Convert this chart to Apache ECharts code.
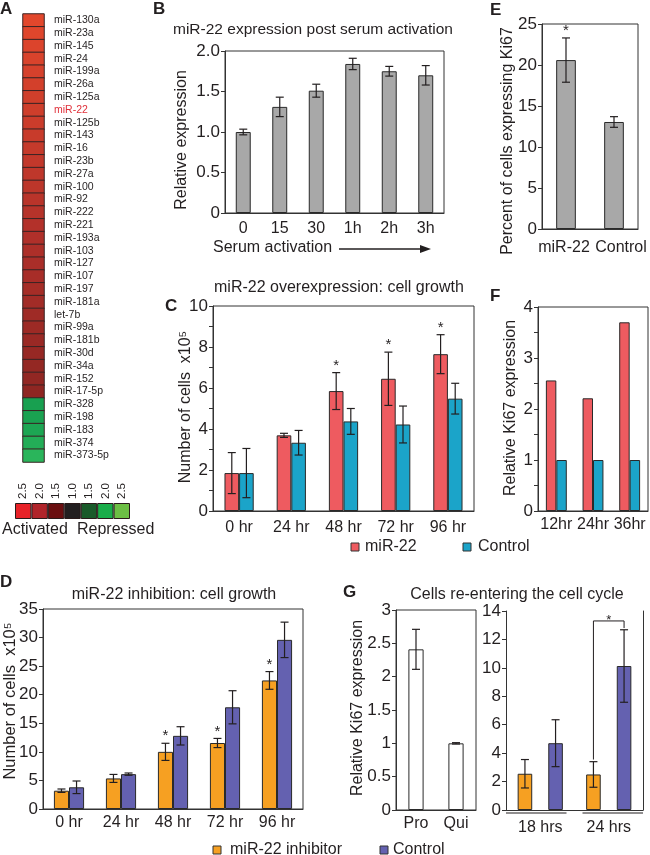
<!DOCTYPE html>
<html><head><meta charset="utf-8">
<script src="https://cdn.jsdelivr.net/npm/echarts@6/dist/echarts.min.js"></script>
<style>html,body{margin:0;padding:0;background:#fff}#c{width:650px;height:855px}</style>
</head><body><div id="c"></div>
<script>
// ---------- DATA ----------
const heatGenes = ['miR-130a','miR-23a','miR-145','miR-24','miR-199a','miR-26a','miR-125a','miR-22','miR-125b','miR-143','miR-16','miR-23b','miR-27a','miR-100','miR-92','miR-222','miR-221','miR-193a','miR-103','miR-127','miR-107','miR-197','miR-181a','let-7b','miR-99a','miR-181b','miR-30d','miR-34a','miR-152','miR-17-5p','miR-328','miR-198','miR-183','miR-374','miR-373-5p'];
const heatValues = [2.5,2.47,2.44,2.41,2.38,2.35,2.32,2.3,2.27,2.24,2.21,2.18,2.15,2.12,2.09,2.06,2.03,2.0,1.97,1.94,1.91,1.88,1.85,1.82,1.79,1.76,1.73,1.7,1.67,1.64,-2.0,-2.05,-2.12,-2.28,-2.45];
const colorbarLabels = ['2.5','2.0','1.5','1.0','1.5','2.0','2.5'];

const serumCats = ['0','15','30','1h','2h','3h'];
const serumMean = [1.0,1.31,1.51,1.84,1.75,1.70];
const serumErr  = [0.035,0.12,0.08,0.07,0.06,0.12];

const ki67Cats = ['miR-22','Control'];
const ki67Pct  = [20.6,13.05];
const ki67Err  = [2.7,0.65];
const ki67Sig  = ['*',''];

const timeCats = ['0 hr','24 hr','48 hr','72 hr','96 hr'];
const overMiR     = [1.85,3.69,5.85,6.45,7.65];
const overMiRErr  = [1.0,0.1,0.9,1.3,0.95];
const overCtrl    = [1.85,3.33,4.37,4.22,5.48];
const overCtrlErr = [1.2,0.6,0.63,0.9,0.75];
const overSig     = ['','','*','*','*'];

const fCats = ['12hr','24hr','36hr'];
const fMiR  = [2.56,2.21,3.70];
const fCtrl = [1,1,1];

const inhibVals = [3.2,5.35,10.0,11.55,22.5];
const inhibErr  = [0.3,0.7,1.5,0.8,1.55];
const inhibSig  = ['','','*','*','*'];
const ctrlVals  = [3.8,6.1,12.8,17.8,29.6];
const ctrlErr   = [1.1,0.2,1.6,2.9,3.1];

const gLeftCats = ['Pro','Qui'];
const gLeftVals = [2.41,1.0];
const gLeftErr  = [0.3,0.01];
const gRightCats = ['18 hrs','24 hrs'];
const gInhib    = [2.55,2.5];
const gInhibErr = [1.0,0.9];
const gCtrl     = [4.7,10.13];
const gCtrlErr  = [1.65,2.55];
const gBracket  = [1, 3.55, 13.3, 12.8]; // category, left start, top, right end

// ---------- STYLE ----------
const FONT = '"Liberation Sans", Arial, "DejaVu Sans", sans-serif';
const INK = '#231f20';
const RED = '#ee5b60', BLUE = '#1ba4c9', ORANGE = '#f6a022', PURPLE = '#6461b0', GRAY = '#a8a8a8';
const colorbarColors = ['#e82228','#b0242a','#6a0e10','#231f20','#1a5a2a','#1aad4a','#6cbf44'];

const chart = echarts.init(document.getElementById('c'));

const gridStyle = {show:true, borderColor:'#333', borderWidth:1, backgroundColor:'transparent'};
const lbl = (extra) => Object.assign({color:INK, fontSize:16, fontFamily:FONT}, extra||{});
function catX(gi, data, margin, extra) {
  return Object.assign({gridIndex:gi, type:'category', data, axisTick:{show:false},
    axisLine:{show:true, lineStyle:{color:'#333'}}, axisLabel:lbl({margin, interval:0})}, extra||{});
}
function valY(gi, min, max, interval, extra) {
  return Object.assign({gridIndex:gi, type:'value', min, max, interval,
    axisLine:{show:true, lineStyle:{color:'#333'}}, axisTick:{show:true, length:4, lineStyle:{color:'#333'}},
    splitLine:{show:false}, axisLabel:lbl({margin:5, fontSize:17})}, extra||{});
}
function barS(ai, data, color, cg, bg) {
  return {type:'bar', xAxisIndex:ai, yAxisIndex:ai, data, barCategoryGap:(cg*100)+'%', barGap:(bg*100)+'%',
    itemStyle:{color, borderColor:'#2a2a2a', borderWidth:1}, silent:true, z:2};
}
function barOffset(band, n, k, cg, bg) {
  const w = band*(1-cg)/(n+(n-1)*bg);
  const total = w*n + w*bg*(n-1);
  return -total/2 + w/2 + k*w*(1+bg);
}
function errS(ai, means, errs, sig, n, k, cg, bg) {
  return {type:'custom', xAxisIndex:ai, yAxisIndex:ai, z:5, silent:true,
    data: means.map((m,i)=>[i,m,errs[i]]), encode:{x:0,y:1},
    renderItem(params, api) {
      const i = api.value(0), m = api.value(1), e = api.value(2);
      const band = api.size([1,0])[0];
      const x = api.coord([i,m])[0] + barOffset(band,n,k,cg,bg);
      const yt = api.coord([i,m+e])[1], yb = api.coord([i,m-e])[1];
      const cap = 4, st = {stroke:INK, lineWidth:1.2};
      const ch = [
        {type:'line', shape:{x1:x,y1:yt,x2:x,y2:yb}, style:st},
        {type:'line', shape:{x1:x-cap,y1:yt,x2:x+cap,y2:yt}, style:st},
        {type:'line', shape:{x1:x-cap,y1:yb,x2:x+cap,y2:yb}, style:st}
      ];
      const s = sig && sig[params.dataIndex];
      if (s) ch.push({type:'text', style:{text:s, x, y:yt-7, textAlign:'center', textVerticalAlign:'middle', font:'15px '+FONT, fill:INK}});
      return {type:'group', children:ch};
    }};
}

const CG_B=0.59, CG_E=0.59, CG_C=0.44, CG_F=0.43, CG_D=0.42, CG_GL=0.62, CG_GR=0.34, BG_GR=1.1;

const xAxis = [
  {gridIndex:0, type:'category', data:['A'], show:false},
  {gridIndex:1, type:'category', data:colorbarLabels, position:'top', axisLine:{show:false}, axisTick:{show:false},
    axisLabel:lbl({rotate:90, margin:4, fontSize:11.5, interval:0, formatter:(v,i)=>colorbarLabels[i]})},
  catX(2, serumCats, 8),
  catX(3, ki67Cats, 11, {axisLabel:lbl({margin:11, interval:0, fontSize:16,
    formatter:(v,i)=> i===0 ? '{a|'+v+'}' : '{b|'+v+'}',
    rich:{a:{fontSize:16, fontFamily:FONT, color:INK, padding:[0,4,0,0]}, b:{fontSize:16, fontFamily:FONT, color:INK, padding:[0,0,0,14]}}})}),
  catX(4, timeCats, 9),
  catX(5, fCats, 6),
  catX(6, timeCats, 6),
  catX(7, gLeftCats, 6),
  catX(8, gRightCats, 10, {axisLine:{show:false}}),
  {gridIndex:8, type:'value', position:'top', min:0, max:1, axisLine:{show:true, lineStyle:{color:'#333'}}, axisLabel:{show:false}, axisTick:{show:false}, splitLine:{show:false}}
];
const yAxis = [
  {gridIndex:0, type:'category', data:heatGenes, inverse:true, position:'right', axisLine:{show:false}, axisTick:{show:false},
    axisLabel:{color:INK, fontSize:10.5, fontFamily:FONT, margin:10, interval:0,
      formatter:v=> v==='miR-22' ? '{hl|'+v+'}' : v, rich:{hl:{color:'#e0303a', fontSize:10.5, fontFamily:FONT}}}},
  {gridIndex:1, type:'value', min:0, max:1, show:false},
  valY(2, 0, 2, 0.5, {axisLabel:lbl({margin:5, fontSize:17, formatter:v=> v===0 ? '0' : v.toFixed(1)})}),
  valY(3, 0, 25, 5),
  valY(4, 0, 10, 2, {minorTick:{show:true, splitNumber:2, length:4, lineStyle:{color:'#333'}}}),
  valY(5, 0, 4, 1, {minorTick:{show:true, splitNumber:2, length:4, lineStyle:{color:'#333'}}}),
  valY(6, 0, 35, 5),
  valY(7, 0, 3, 0.5),
  valY(8, 0, 14, 2),
  {gridIndex:8, type:'value', position:'right', min:0, max:1, axisLine:{show:true, lineStyle:{color:'#333'}}, axisLabel:{show:false}, axisTick:{show:false}, splitLine:{show:false}}
];

const series = [
  {type:'heatmap', xAxisIndex:0, yAxisIndex:0, data:heatValues.map((v,i)=>[0,i,v]),
    itemStyle:{borderColor:'#3a2424', borderWidth:1}, silent:true},
  {type:'bar', xAxisIndex:1, yAxisIndex:1, data:colorbarLabels.map(()=>1), barCategoryGap:'0%', silent:true,
    itemStyle:{color:p=>colorbarColors[p.dataIndex], borderColor:'#2a1a1a', borderWidth:1}},
  // B
  barS(2, serumMean, GRAY, CG_B, 0), errS(2, serumMean, serumErr, null, 1, 0, CG_B, 0),
  // E
  barS(3, ki67Pct, GRAY, CG_E, 0), errS(3, ki67Pct, ki67Err, ki67Sig, 1, 0, CG_E, 0),
  // C
  barS(4, overMiR, RED, CG_C, 0), barS(4, overCtrl, BLUE, CG_C, 0),
  errS(4, overMiR, overMiRErr, overSig, 2, 0, CG_C, 0), errS(4, overCtrl, overCtrlErr, null, 2, 1, CG_C, 0),
  // F
  barS(5, fMiR, RED, CG_F, 0), barS(5, fCtrl, BLUE, CG_F, 0),
  // D
  barS(6, inhibVals, ORANGE, CG_D, 0), barS(6, ctrlVals, PURPLE, CG_D, 0),
  errS(6, inhibVals, inhibErr, inhibSig, 2, 0, CG_D, 0), errS(6, ctrlVals, ctrlErr, null, 2, 1, CG_D, 0),
  // G left
  barS(7, gLeftVals, '#ffffff', CG_GL, 0), errS(7, gLeftVals, gLeftErr, null, 1, 0, CG_GL, 0),
  // G right
  barS(8, gInhib, ORANGE, CG_GR, BG_GR), barS(8, gCtrl, PURPLE, CG_GR, BG_GR),
  errS(8, gInhib, gInhibErr, null, 2, 0, CG_GR, BG_GR), errS(8, gCtrl, gCtrlErr, null, 2, 1, CG_GR, BG_GR),
  {type:'custom', xAxisIndex:8, yAxisIndex:8, silent:true, z:6, data:[gBracket], encode:{x:0,y:2},
    renderItem(params, api) {
      const c = api.value(0), band = api.size([1,0])[0];
      const cx = api.coord([c,0])[0];
      const xl = cx + barOffset(band,2,0,CG_GR,BG_GR), xr = cx + barOffset(band,2,1,CG_GR,BG_GR);
      const y1 = api.coord([c,api.value(1)])[1], yt = api.coord([c,api.value(2)])[1], y2 = api.coord([c,api.value(3)])[1];
      return {type:'group', children:[
        {type:'polyline', shape:{points:[[xl,y1],[xl,yt],[xr,yt],[xr,y2]]}, style:{stroke:INK, lineWidth:1, fill:null}},
        {type:'text', style:{text:'*', x:(xl+xr)/2, y:yt-1, textAlign:'center', textVerticalAlign:'middle', font:'13px '+FONT, fill:INK}}
      ]};
    }},
  {type:'custom', xAxisIndex:8, yAxisIndex:8, silent:true, data:gRightCats.map((c,i)=>[i,0]), encode:{x:0,y:1},
    renderItem(params, api) {
      const i = api.value(0), band = api.size([1,0])[0];
      const p = api.coord([i,0]);
      let x1 = p[0]-band/2, x2 = p[0]+band/2;
      if (i>0) x1 += 8;
      if (i<gRightCats.length-1) x2 -= 8;
      return {type:'line', shape:{x1, y1:p[1]+3, x2, y2:p[1]+3}, style:{stroke:INK, lineWidth:1.2}};
    }}
];

function T(text, x, y, opt) {
  opt = opt || {};
  return {type:'text', x, y, rotation: opt.rot || 0, silent:true,
    style:{text, fill:opt.color||INK, font:(opt.bold?'bold ':'')+(opt.size||16)+'px '+FONT,
      textAlign:opt.align||'left', textVerticalAlign:'middle'}};
}
function sq(x, y, fill) {
  return {type:'rect', shape:{x, y, width:8, height:8}, style:{fill, stroke:'#333', lineWidth:1}, silent:true};
}
const R = Math.PI/2;
const graphic = [
  T('A', 0, 9, {bold:true, size:17}),
  T('B', 153, 9, {bold:true, size:17}),
  T('C', 165, 306, {bold:true, size:17}),
  T('D', 0, 582, {bold:true, size:17}),
  T('E', 490, 10, {bold:true, size:17}),
  T('F', 490, 296, {bold:true, size:17}),
  T('G', 343, 592, {bold:true, size:17}),
  T('miR-22 expression post serum activation', 173, 30, {size:15.5}),
  T('miR-22 overexpression: cell growth', 214, 288),
  T('miR-22 inhibition: cell growth', 174, 595, {align:'center'}),
  T('Cells re-entering the cell cycle', 517, 595, {align:'center'}),
  T('Relative expression', 182, 140, {rot:R, align:'center'}),
  T('Percent of cells expressing Ki67', 508, 141, {rot:R, align:'center'}),
  T('Number of cells  x10⁵', 186, 407, {rot:R, align:'center'}),
  T('Relative Ki67 expression', 511, 408, {rot:R, align:'center'}),
  T('Number of cells  x10⁵', 10, 701, {rot:R, align:'center', size:16.5}),
  T('Relative Ki67 expression', 358, 708, {rot:R, align:'center'}),
  T('Serum activation', 213, 248),
  {type:'line', shape:{x1:339, y1:249, x2:424, y2:249}, style:{stroke:INK, lineWidth:1.3}, silent:true},
  {type:'polygon', shape:{points:[[431,249],[420,245],[420,253]]}, style:{fill:INK}, silent:true},
  T('Activated', 2, 530),
  T('Repressed', 77, 530),
  sq(351, 543, RED), T('miR-22', 365, 547),
  sq(463, 543, BLUE), T('Control', 478, 547),
  sq(213, 846, ORANGE), T('miR-22 inhibitor', 230, 850),
  sq(380, 846, PURPLE), T('Control', 393, 850)
];

chart.setOption({
  animation:false,
  textStyle:{fontFamily:FONT},
  grid:[
    {left:23, top:14, width:21, height:448},
    {left:15, top:503, width:115, height:16},
    Object.assign({left:225, top:51, width:219, height:162}, gridStyle),
    Object.assign({left:542, top:24, width:96, height:205}, gridStyle),
    Object.assign({left:213, top:306, width:261, height:205}, gridStyle),
    Object.assign({left:538, top:307, width:110, height:204}, gridStyle),
    Object.assign({left:43, top:609, width:260, height:200}, gridStyle),
    Object.assign({left:396, top:610, width:80, height:200}, gridStyle),
    {left:506, top:611, width:137, height:199}
  ],
  visualMap:[{type:'continuous', show:false, seriesIndex:0, min:-2.5, max:2.5, dimension:2,
    inRange:{color:['#2cb75c','#18a050','#138844','#1a5a2a','#1f3a22','#231f20','#3a1515','#5a1818','#82221f','#b0302a','#e2472c']}}],
  xAxis, yAxis, series, graphic
});
</script></body></html>
